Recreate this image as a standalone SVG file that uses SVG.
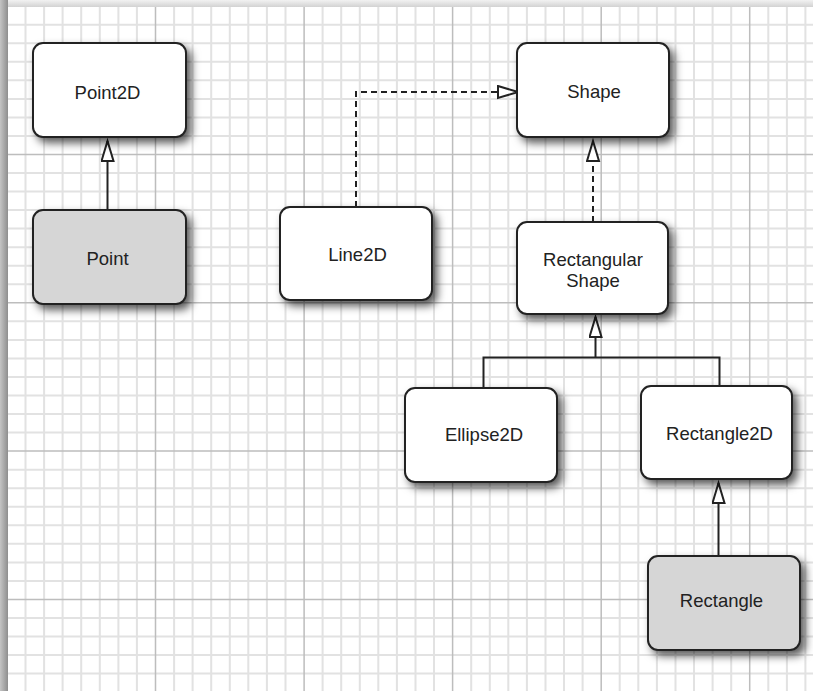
<svg xmlns="http://www.w3.org/2000/svg" width="813" height="691" viewBox="0 0 813 691">
<defs>
<linearGradient id="lb" x1="0" y1="0" x2="1" y2="0"><stop offset="0" stop-color="#c4c4c4"/><stop offset="1" stop-color="#8e8e8e"/></linearGradient>
<linearGradient id="tb" x1="0" y1="0" x2="0" y2="1"><stop offset="0" stop-color="#f2f2f2"/><stop offset="1" stop-color="#d2d2d2"/></linearGradient>
<filter id="sh" x="-20%" y="-20%" width="150%" height="150%"><feDropShadow dx="4.5" dy="5" stdDeviation="4.5" flood-color="#000" flood-opacity="0.65"/></filter>
<marker id="tri" markerUnits="userSpaceOnUse" markerWidth="24" markerHeight="16" refX="21" refY="7" orient="auto"><path d="M1,1 L21,7 L1,13 Z" fill="#fff" stroke="#222" stroke-width="2" stroke-linejoin="miter"/></marker>
<style>
.minor{stroke:#e2e2e2;stroke-width:2;fill:none}
.major{stroke:#bdbdbd;stroke-width:1.5;fill:none}
.box{stroke:#222;stroke-width:2;filter:url(#sh)}
.w{fill:#fff}
.g{fill:#d6d6d6}
.t{font-family:"Liberation Sans",Arial,sans-serif;font-size:18.5px;fill:#222;text-anchor:middle}
.c{stroke:#222;stroke-width:2;fill:none}
.d{stroke-dasharray:6 4}
</style>
</defs>
<rect x="0" y="0" width="813" height="691" fill="#fff"/>
<g id="grid">
<path class="minor" d="M25.5,7V691M44.1,7V691M62.6,7V691M81.2,7V691M99.8,7V691M118.4,7V691M136.9,7V691M174.1,7V691M192.6,7V691M211.2,7V691M229.8,7V691M248.3,7V691M266.9,7V691M285.5,7V691M322.6,7V691M341.2,7V691M359.8,7V691M378.3,7V691M396.9,7V691M415.5,7V691M434,7V691M471.2,7V691M489.8,7V691M508.3,7V691M526.9,7V691M545.5,7V691M564,7V691M582.6,7V691M619.7,7V691M638.3,7V691M656.9,7V691M675.5,7V691M694,7V691M712.6,7V691M731.2,7V691M768.3,7V691M786.9,7V691M805.4,7V691
M8,24.7H813M8,43.2H813M8,61.8H813M8,80.3H813M8,98.9H813M8,117.4H813M8,135.9H813M8,173H813M8,191.6H813M8,210.1H813M8,228.6H813M8,247.2H813M8,265.7H813M8,284.3H813M8,321.3H813M8,339.9H813M8,358.4H813M8,377H813M8,395.5H813M8,414H813M8,432.6H813M8,469.7H813M8,488.2H813M8,506.7H813M8,525.3H813M8,543.8H813M8,562.4H813M8,580.9H813M8,618H813M8,636.5H813M8,655.1H813M8,673.6H813"/>
<path class="major" d="M155.5,7V691M304.1,7V691M452.6,7V691M601.2,7V691M749.7,7V691M8,154.5H813M8,302.8H813M8,451.1H813M8,599.4H813"/>
<rect x="0" y="0" width="813" height="7" fill="url(#tb)"/>
<rect x="0" y="0" width="8" height="691" fill="url(#lb)"/>
</g>
<g id="connectors">
<path class="c" d="M107.5,210V141" marker-end="url(#tri)"/>
<path class="c d" d="M356,207V92H518" marker-end="url(#tri)"/>
<path class="c d" d="M593,222V141" marker-end="url(#tri)"/>
<path class="c" d="M483.5,388V357.5H719.5V386"/>
<path class="c" d="M595.5,357.5V317" marker-end="url(#tri)"/>
<path class="c" d="M718.5,556V483" marker-end="url(#tri)"/>
</g>
<g id="point2d"><rect class="box w" x="33" y="43" width="153" height="94" rx="10"/><text class="t" x="107.5" y="99">Point2D</text></g>
<g id="point"><rect class="box g" x="33" y="210" width="153" height="94" rx="10"/><text class="t" x="107.5" y="265">Point</text></g>
<g id="line2d"><rect class="box w" x="280" y="207" width="152" height="93" rx="10"/><text class="t" x="357.5" y="261">Line2D</text></g>
<g id="shape"><rect class="box w" x="517" y="43" width="152" height="94" rx="10"/><text class="t" x="594" y="98">Shape</text></g>
<g id="rectangularshape"><rect class="box w" x="517" y="222" width="151" height="92" rx="10"/><text class="t" x="593" y="266">Rectangular</text><text class="t" x="593" y="287">Shape</text></g>
<g id="ellipse2d"><rect class="box w" x="405" y="388" width="152" height="94" rx="10"/><text class="t" x="484" y="441">Ellipse2D</text></g>
<g id="rectangle2d"><rect class="box w" x="641" y="386" width="151" height="93" rx="10"/><text class="t" x="719.5" y="440">Rectangle2D</text></g>
<g id="rectangle"><rect class="box g" x="648" y="556" width="152" height="94" rx="10"/><text class="t" x="721.5" y="607">Rectangle</text></g>
</svg>
